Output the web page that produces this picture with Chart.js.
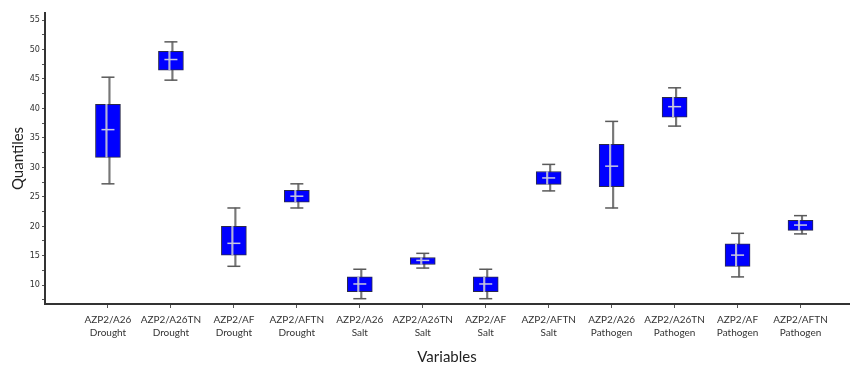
<!DOCTYPE html>
<html>
<head>
<meta charset="utf-8">
<script src="https://cdn.jsdelivr.net/npm/chart.js@4/dist/chart.umd.min.js"></script>
<style>
  html, body { margin: 0; padding: 0; background: #fff; }
  #wrap { width: 857px; height: 366px; }
</style>
</head>
<body>
<div id="wrap"><canvas id="boxChart" width="857" height="366"></canvas></div>
<script>
// Categories (line 1 / line 2 of each x label)
const categories = [
  ['AZP2/A26', 'Drought'], ['AZP2/A26TN', 'Drought'], ['AZP2/AF', 'Drought'], ['AZP2/AFTN', 'Drought'],
  ['AZP2/A26', 'Salt'], ['AZP2/A26TN', 'Salt'], ['AZP2/AF', 'Salt'], ['AZP2/AFTN', 'Salt'],
  ['AZP2/A26', 'Pathogen'], ['AZP2/A26TN', 'Pathogen'], ['AZP2/AF', 'Pathogen'], ['AZP2/AFTN', 'Pathogen']
];

// Box plot values
const mins    = [27.2, 44.8, 13.2, 23.1,  7.7, 12.9,  7.7, 26.0, 23.1, 37.0, 11.4, 18.7];
const q1s     = [31.7, 46.5, 15.1, 24.1,  8.9, 13.5,  8.9, 27.1, 26.7, 38.5, 13.2, 19.3];
const medians = [36.4, 48.3, 17.1, 25.1, 10.2, 14.2, 10.2, 28.2, 30.2, 40.3, 15.1, 20.2];
const q3s     = [40.7, 49.7, 20.0, 26.1, 11.4, 14.7, 11.4, 29.3, 33.9, 41.9, 17.0, 21.0];
const maxs    = [45.3, 51.3, 23.1, 27.2, 12.7, 15.4, 12.7, 30.5, 37.8, 43.5, 18.8, 21.8];

const yTicks = [7.5, 10, 12.5, 15, 17.5, 20, 22.5, 25, 27.5, 30, 32.5, 35, 37.5, 40, 42.5, 45, 47.5, 50, 52.5, 55];

const xs = categories.map((_, i) => i + 1);
const pairs = (a, b) => xs.map((x, i) => ({ x: x, y: [a[i], b[i]] }));
const points = arr => xs.map((x, i) => ({ x: x, y: arr[i] }));

const ctx = document.getElementById('boxChart').getContext('2d');
new Chart(ctx, {
  data: {
    datasets: [
      { // whisker line (behind box)
        type: 'bar', data: pairs(mins, maxs), barThickness: 1.5,
        backgroundColor: '#777777', order: 5
      },
      { // box
        type: 'bar', data: pairs(q1s, q3s), barThickness: 25,
        backgroundColor: '#0000ff', borderColor: '#2a2a4a', borderWidth: 1, borderSkipped: false, order: 4
      },
      { // whisker line seen through the box
        type: 'bar', data: pairs(q1s, q3s), barThickness: 1.5,
        backgroundColor: '#b4b4d8', order: 3
      },
      { // caps
        type: 'scatter', data: points(mins).concat(points(maxs)), pointStyle: 'line',
        radius: 6.5, borderColor: '#5a5a5a', borderWidth: 1.5, order: 2
      },
      { // median
        type: 'scatter', data: points(medians), pointStyle: 'line',
        radius: 6.5, borderColor: '#c8c8e0', borderWidth: 1.5, order: 1
      }
    ]
  },
  options: {
    responsive: false,
    animation: false,
    layout: { padding: { top: 13, right: 1, left: 0, bottom: 0 } },
    plugins: { legend: { display: false }, tooltip: { enabled: false } },
    scales: {
      x: {
        type: 'linear', min: 0, max: 12.77, offset: false,
        afterBuildTicks: axis => { axis.ticks = xs.map(v => ({ value: v })); },
        afterFit: scale => { scale.height = 62; },
        grid: { offset: false, drawOnChartArea: false, drawTicks: true, tickLength: 4, color: '#555' },
        border: { display: true, color: '#333', width: 2 },
        ticks: {
          autoSkip: false, maxRotation: 0, padding: 5, color: '#333',
          font: { family: 'Lato', size: 10, lineHeight: 1.35 },
          callback: value => categories[value - 1] || ''
        },
        title: { display: true, text: 'Variables', color: '#222', font: { family: 'Lato', size: 15 }, padding: { top: 0, bottom: 0 } }
      },
      y: {
        min: 6.8, max: 56.2,
        afterBuildTicks: axis => { axis.ticks = yTicks.map(v => ({ value: v })); },
        afterFit: scale => { scale.width = 45; },
        grid: { drawOnChartArea: false, drawTicks: true, tickLength: 3, color: '#555' },
        border: { display: true, color: '#333', width: 2 },
        ticks: {
          padding: 2, color: '#333',
          font: { family: 'Liberation Sans Narrow, DejaVu Sans Condensed, sans-serif', size: 9 },
          callback: value => (value % 5 === 0 ? String(value) : '')
        },
        title: { display: true, text: 'Quantiles', color: '#222', font: { family: 'Lato', size: 15 }, padding: { top: 9, bottom: 0 } }
      }
    }
  }
});
</script>
</body>
</html>
